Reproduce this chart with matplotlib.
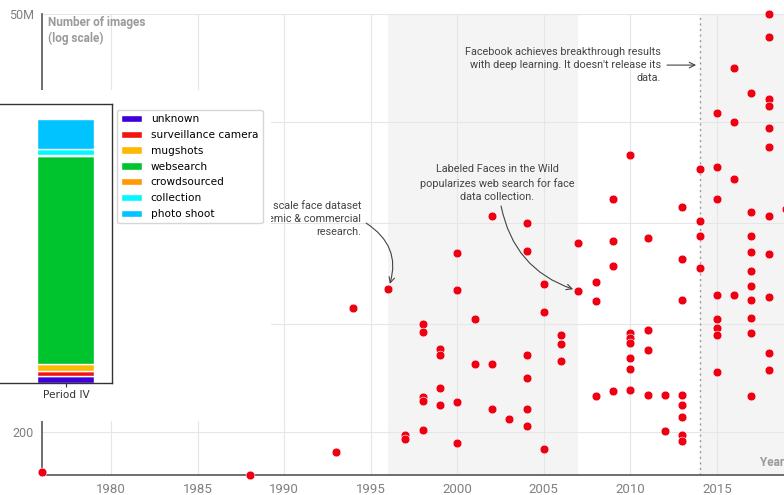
import matplotlib
matplotlib.use('Agg')
import matplotlib.pyplot as plt

W, H = 784, 495

# face datasets: release year and number of images
dataset_years = (
    [1976, 1988, 1993, 1994, 1996, 1997, 1997]
    + [1998] * 5 + [1999] * 4 + [2000] * 4 + [2001] * 2 + [2002] * 3
    + [2003] + [2004] * 6 + [2005] * 3 + [2006] * 3 + [2007] * 2
    + [2008] * 3 + [2009] * 4 + [2010] * 7 + [2011] * 4 + [2012] * 2
    + [2013] * 8 + [2014] * 4 + [2015] * 8 + [2016] * 4 + [2017] * 10
    + [2018] * 11 + [2019]
)
dataset_images = [
    61, 56, 110, 8000, 14000, 183, 162,
    5000, 3900, 570, 500, 212,
    2360, 1980, 740, 447,
    41000, 13700, 490, 144,
    5770, 1510,
    124000, 1510, 397,
    295,
    100000, 43600, 1980, 998, 397, 239,
    16300, 7100, 121,
    3580, 2740, 1650,
    55300, 13300,
    17300, 9860, 583,
    205000, 58700, 27900, 677,
    759000, 3800, 3280, 2830, 1810, 1300, 698,
    64200, 4160, 2290, 601,
    601, 206,
    161000, 34400, 10100, 601, 447, 313, 183, 153,
    500000, 106000, 68100, 26300,
    2640000, 531000, 205000, 11800, 5770, 4410, 3580, 1190,
    10100000, 2020000, 371000, 11800,
    4800000, 139000, 68100, 42300, 24000, 15400, 10100, 5940, 3800, 583,
    50000000, 25400000, 4000000, 3260000, 1690000, 962000, 124000, 39900,
    11100, 2100, 1260,
    152000,
]

y_ticks = [200, 5000, 100000, 2000000, 50000000]
y_ticklabels = ['200', '5K', '100K', '2M', '50M']
x_ticks = [1980, 1985, 1990, 1995, 2000, 2005, 2010, 2015]

# era shading and the DeepFace marker
eras = [(1996, 2007), (2014, 2020)]
deepface_year = 2014

# source breakdown of Period IV datasets (share of images)
sources = ['unknown', 'surveillance camera', 'mugshots', 'websearch',
           'crowdsourced', 'collection', 'photo shoot']
period4_share = [0.025, 0.022, 0.024, 0.790, 0.002, 0.022, 0.115]
source_colors = ['#3d00d8', '#f2150f', '#ffb800', '#00c42e',
                 '#ff9a00', '#00f8ff', '#00c3ff']


def px(x0, y0, x1, y1):
    # pixel box (top-left origin) -> figure rect
    return [x0 / W, 1 - y1 / H, (x1 - x0) / W, (y1 - y0) / H]


fig = plt.figure(figsize=(W / 100, H / 100), dpi=100)

ax = fig.add_axes(px(42, 14, 784, 475))
ax.set_yscale('log')
ax.set_xlim(1976, 2018.88)
ax.set_ylim(55.6, 5.03e7)
ax.set_axisbelow(True)

for start, end in eras:
    ax.axvspan(start, end, color='#f4f4f4', lw=0, zorder=0)
ax.axvline(deepface_year, color='#9a9a9a', lw=1, ls=(0, (1.5, 2.5)), zorder=1)

ax.scatter(dataset_years, dataset_images, s=40, color='#ee0012',
           edgecolors='white', linewidths=0.4, zorder=3, clip_on=False)

ax.set_xticks(x_ticks)
ax.set_yticks(y_ticks)
ax.set_yticklabels(y_ticklabels)
ax.minorticks_off()
ax.grid(True, color='#e6e6e6', lw=0.8)
ax.tick_params(length=0, labelcolor='#808080', pad=6)
ax.tick_params(axis='x', labelsize=9.5)
ax.tick_params(axis='y', labelsize=9)
for lab in ax.get_xticklabels() + ax.get_yticklabels():
    lab.set_family('Roboto')
for side in ['top', 'right']:
    ax.spines[side].set_visible(False)
for side in ['left', 'bottom']:
    ax.spines[side].set_color('#555555')
    ax.spines[side].set_linewidth(1.2)

ax.text(0.008, 0.996, 'Number of images\n(log scale)', transform=ax.transAxes,
        ha='left', va='top', fontsize=8.5, fontweight='bold', color='#9a9a9a',
        family='Roboto', linespacing=1.3)
ax.text(0.9677, 0.028, 'Year', transform=ax.transAxes, ha='left', va='center',
        fontsize=8.5, fontweight='bold', color='#9a9a9a', family='Roboto')

note_style = dict(fontsize=7.8, color='#444444', family='Roboto', linespacing=1.42)
arrow_style = dict(arrowstyle='->', color='#444444', lw=0.8)

# start of this note sits under the inset panel
ax.text(1994.44, 113000, 'scale face dataset\nemic & commercial\nresearch.',
        ha='right', va='center', multialignment='right', **note_style)
ax.annotate('', xy=(1996, 14000), xytext=(1994.73, 100000),
            arrowprops=dict(connectionstyle='arc3,rad=-0.4', shrinkA=0, shrinkB=4,
                            **arrow_style))

ax.text(2002.3, 330000, 'Labeled Faces in the Wild\npopularizes web search for face\ndata collection.',
        ha='center', va='center', multialignment='center', **note_style)
ax.annotate('', xy=(2007, 13300), xytext=(2002.53, 166000),
            arrowprops=dict(connectionstyle='arc3,rad=0.3', shrinkA=0, shrinkB=4,
                            **arrow_style))

ax.text(2011.77, 1.1e7, "Facebook achieves breakthrough results\nwith deep learning. It doesn't release its\ndata.",
        ha='right', va='center', multialignment='right', **note_style)
ax.annotate('', xy=(2013.8, 1.1e7), xytext=(2012.12, 1.1e7),
            arrowprops=dict(shrinkA=0, shrinkB=0, **arrow_style))

# inset: stacked bar of sources
bg = fig.add_axes(px(0, 90, 271, 421))
bg.set_facecolor('white')
bg.set_xticks([])
bg.set_yticks([])
for s in bg.spines.values():
    s.set_visible(False)

ax_in = fig.add_axes(px(-63, 104, 112, 383))
bottom = 0
for name, share, col in zip(sources, period4_share, source_colors):
    ax_in.bar(['Period IV'], [share], bottom=bottom, width=0.8, color=col,
              edgecolor='white', linewidth=1, label=name)
    bottom += share
ax_in.set_xlim(-1.806, 0.646)
ax_in.set_ylim(0, 1.057)
ax_in.set_yticks([])
ax_in.tick_params(axis='x', labelsize=7.6, colors='#333333', length=3, pad=2)
for s in ax_in.spines.values():
    s.set_color('#333333')
    s.set_linewidth(1)
ax_in.legend(loc='upper left', bbox_to_anchor=(117 / W, 1 - 110 / H),
             bbox_transform=fig.transFigure, borderaxespad=0, fontsize=7.6,
             labelspacing=0.55)

fig.savefig('out.png', dpi=100)
